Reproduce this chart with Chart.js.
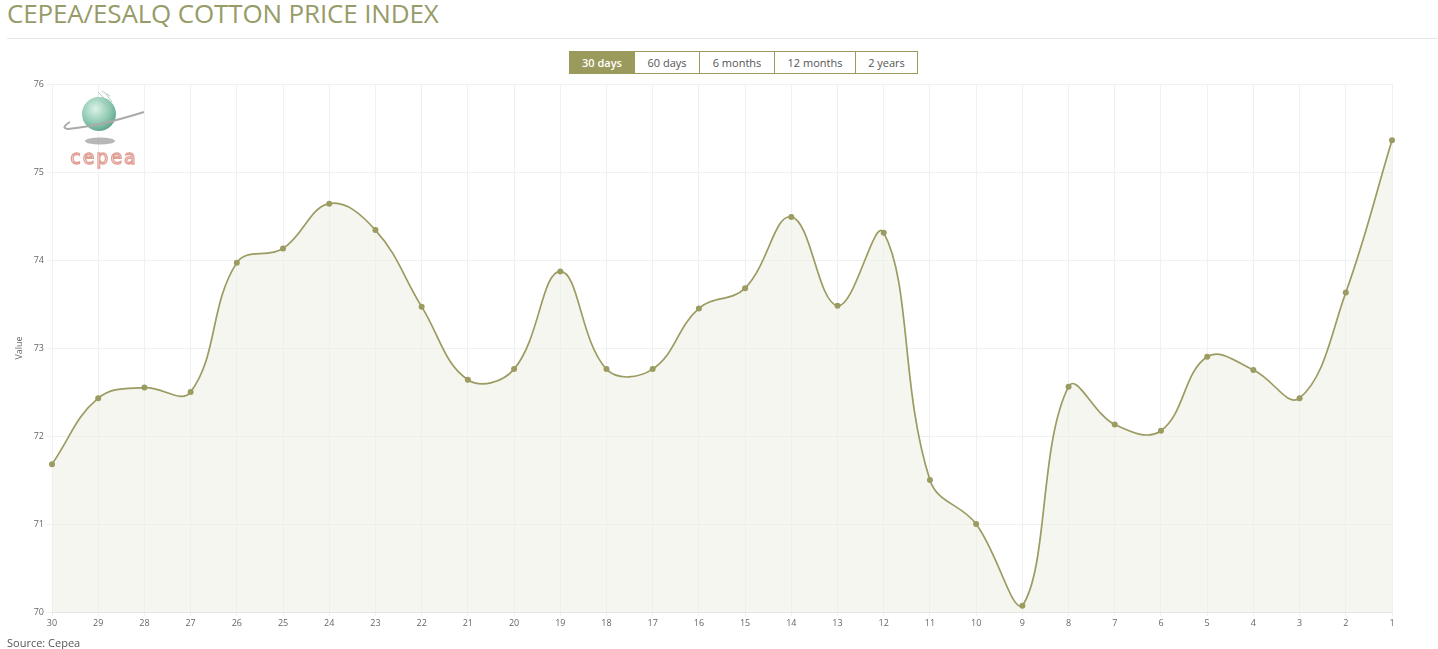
<!DOCTYPE html>
<html>
<head>
<meta charset="utf-8">
<script src="https://cdn.jsdelivr.net/npm/chart.js@4.4.0/dist/chart.umd.min.js"></script>
<style>
  html, body { margin:0; padding:0; background:#fff; width:1438px; height:649px; overflow:hidden; font-family:"Open Sans", sans-serif; }
  #title { position:absolute; left:7px; top:-5px; font-size:26px; color:#969b68; white-space:nowrap; letter-spacing:-0.15px; }
  #rule { position:absolute; left:7px; right:0; top:38px; height:1px; background:#e6e6e6; }
  #btns { position:absolute; left:569px; top:51px; display:flex; height:23px; }
  #btns div { box-sizing:border-box; height:23px; line-height:21px; font-size:11px; color:#555; text-align:center; border:1px solid #9a9a5c; border-left:none; background:#fff; }
  #btns div:first-child { border-left:1px solid #9a9a5c; background:#9a9a5c; color:#fff; font-weight:600; }
  #wrap { position:absolute; left:0; top:0; width:1438px; height:649px; }
  #source { position:absolute; left:7px; top:635px; font-size:11px; color:#555; }
  #logo { position:absolute; left:58px; top:86px; width:94px; height:84px; }
</style>
</head>
<body>
<div id="title">CEPEA/ESALQ COTTON PRICE INDEX</div>
<div id="rule"></div>
<div id="btns">
  <div style="width:66px">30 days</div>
  <div style="width:65px">60 days</div>
  <div style="width:75px">6 months</div>
  <div style="width:81px">12 months</div>
  <div style="width:62px">2 years</div>
</div>
<div id="wrap"><canvas id="c" width="1438" height="649"></canvas></div>
<svg id="logo" width="94" height="84" viewBox="0 0 94 84">
  <defs>
    <radialGradient id="g" cx="0.4" cy="0.35" r="0.7">
      <stop offset="0" stop-color="#dcf2e8"/>
      <stop offset="0.6" stop-color="#8fcab2"/>
      <stop offset="1" stop-color="#5aa287"/>
    </radialGradient>
  </defs>
  <ellipse cx="42" cy="55" rx="15" ry="3.5" fill="#999" opacity="0.7"/>
  <circle cx="41" cy="28" r="17" fill="url(#g)"/>
  <path d="M 86 26 Q 42 40 10 43 Q 2 42 12 36" stroke="#aaa" stroke-width="2" fill="none"/>
  <g stroke="#9bbdb0" stroke-width="0.8" fill="none" opacity="0.9">
    <path d="M40 6 L46 12 M44 5 L52 10 M48 8 L54 16 M42 14 L50 20"/>
  </g>
  <text x="46" y="78" text-anchor="middle" font-family="DejaVu Sans, sans-serif" font-size="19" fill="#fff" stroke="#e0a095" stroke-width="1.3" letter-spacing="2">cepea</text>
</svg>
<div id="source">Source: Cepea</div>
<script>
const categories = ["30","29","28","27","26","25","24","23","22","21","20","19","18","17","16","15","14","13","12","11","10","9","8","7","6","5","4","3","2","1"];
const values = [71.68,72.43,72.55,72.50,73.97,74.13,74.64,74.34,73.47,72.64,72.76,73.87,72.76,72.76,73.45,73.68,74.49,73.48,74.31,71.50,71.00,70.07,72.56,72.13,72.06,72.90,72.75,72.43,73.63,75.36];
const yTicks = [70,71,72,73,74,75,76];

const olive = '#9b9b62';
new Chart(document.getElementById('c'), {
  type: 'line',
  data: {
    labels: categories,
    datasets: [{
      label: 'Value',
      data: values,
      borderColor: olive,
      borderWidth: 1.7,
      backgroundColor: 'rgba(240,240,230,0.6)',
      fill: 'start',
      tension: 0.4,
      pointRadius: 3,
      pointBackgroundColor: olive,
      pointBorderColor: olive,
      pointBorderWidth: 0
    }]
  },
  options: {
    responsive: false,
    animation: false,
    layout: { padding: { left: 10, right: 46, top: 84, bottom: 16 } },
    plugins: { legend: { display: false }, tooltip: { enabled: false } },
    scales: {
      x: {
        offset: false,
        grid: { color: '#f0f0f0', tickLength: 4, drawTicks: true },
        border: { color: '#e6e6e6' },
        ticks: { color: '#666', font: { size: 9, family: 'Open Sans' }, padding: 2, maxRotation: 0, autoSkip: false },
        afterFit: s => { s.height = 21; }
      },
      y: {
        min: 70, max: 76,
        afterBuildTicks: s => { s.ticks = yTicks.map(v => ({ value: v })); },
        grid: { color: '#f0f0f0', tickLength: 5 },
        border: { display: false },
        ticks: { color: '#666', font: { size: 9, family: 'Open Sans' }, padding: 3 },
        title: { display: true, text: 'Value', color: '#666', font: { size: 9, family: 'Open Sans' }, padding: { top: 4, bottom: 4 } },
        afterFit: s => { s.width = 42; }
      }
    }
  }
});
</script>
</body>
</html>
